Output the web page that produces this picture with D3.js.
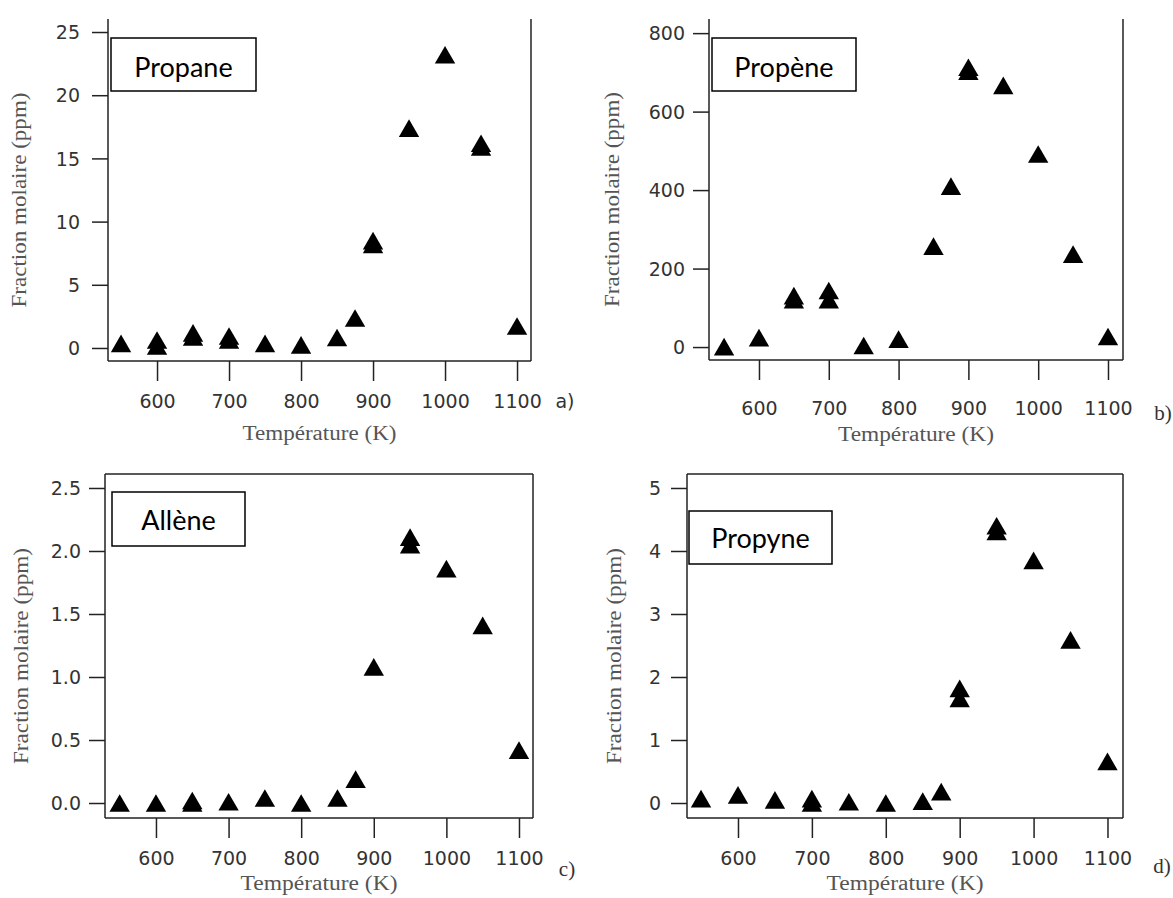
<!DOCTYPE html>
<html>
<head>
<meta charset="utf-8">
<script src="https://cdn.jsdelivr.net/npm/d3@7"></script>
<style>
  html, body { margin: 0; padding: 0; background: #fff; }
  svg { display: block; }
</style>
</head>
<body>
<svg id="chart" width="1173" height="898"></svg>
<script>
// ---------------- DATA ----------------
const speciesNames = ["Propane", "Propène", "Allène", "Propyne"];
const panelLetters = ["a)", "b)", "c)", "d)"];
const xTitle = "Température (K)";
const yTitle = "Fraction molaire (ppm)";

const xTickValues = [600, 700, 800, 900, 1000, 1100];

const propaneT = [550, 600, 600, 650, 650, 700, 700, 750, 800, 850, 875, 900, 900, 950, 1000, 1050, 1050, 1100];
const propaneY = [0.36, 0.16, 0.63, 0.87, 1.19, 0.63, 0.95, 0.36, 0.24, 0.83, 2.37, 8.2, 8.5, 17.4, 23.2, 15.9, 16.2, 1.74];

const propeneT = [550, 600, 650, 650, 700, 700, 750, 800, 850, 875, 900, 900, 950, 1000, 1050, 1100];
const propeneY = [1, 24, 121, 131, 121, 144, 4, 20, 257, 410, 703, 713, 667, 492, 237, 27];

const alleneT = [550, 600, 650, 650, 700, 750, 800, 850, 875, 900, 950, 950, 1000, 1050, 1100];
const alleneY = [0.0, 0.0, 0.0, 0.02, 0.01, 0.04, 0.0, 0.04, 0.19, 1.08, 2.05, 2.11, 1.86, 1.41, 0.42];

const propyneT = [550, 600, 650, 700, 700, 750, 800, 850, 875, 900, 900, 950, 950, 1000, 1050, 1100];
const propyneY = [0.07, 0.13, 0.05, 0.0, 0.07, 0.02, 0.0, 0.03, 0.18, 1.66, 1.82, 4.31, 4.40, 3.85, 2.59, 0.66];

const yTicksA = [0, 5, 10, 15, 20, 25];
const yTicksB = [0, 200, 400, 600, 800];
const yTicksC = [0.0, 0.5, 1.0, 1.5, 2.0, 2.5];
const yTicksD = [0, 1, 2, 3, 4, 5];

// axis ranges (data units)
const xDomainA = [531.9, 1119.4], yDomainA = [-1.03, 26.03];
const xDomainB = [528.4, 1121.5], yDomainB = [-33, 836];
const xDomainC = [529.8, 1119.3], yDomainC = [-0.119, 2.611];
const xDomainD = [531.0, 1121.0], yDomainD = [-0.238, 5.222];

// ---------------- LAYOUT ----------------
const panels = [
  { t: propaneT, v: propaneY, yt: yTicksA, xd: xDomainA, yd: yDomainA, fmt: d3.format("d"),
    L: 108, R: 531, T: 19, B: 361, topBorder: false,
    xLab: 40, yLabEnd: 80, xTitleY: 440, xTitleLen: 154, yTitleX: 26, yTitleLen: 215,
    box: [111, 38, 145, 53], boxBase: 77,
    letter: [565, 401], letterFont: "sans" },
  { t: propeneT, v: propeneY, yt: yTicksB, xd: xDomainB, yd: yDomainB, fmt: d3.format("d"),
    L: 709, R: 1123, T: 19, B: 360, topBorder: false,
    xLab: 48, yLabEnd: 685, xTitleY: 441, xTitleLen: 156, yTitleX: 619, yTitleLen: 215,
    box: [712, 38, 144, 53], boxBase: 77,
    letter: [1163, 413], letterFont: "serif" },
  { t: alleneT, v: alleneY, yt: yTicksC, xd: xDomainC, yd: yDomainC, fmt: d3.format(".1f"),
    L: 105, R: 533, T: 474, B: 818, topBorder: true,
    xLab: 40, yLabEnd: 81, xTitleY: 890, xTitleLen: 157, yTitleX: 28, yTitleLen: 216,
    box: [112, 492, 133, 54], boxBase: 530,
    letter: [567, 869], letterFont: "serif" },
  { t: propyneT, v: propyneY, yt: yTicksD, xd: xDomainD, yd: yDomainD, fmt: d3.format("d"),
    L: 687, R: 1123, T: 474, B: 818, topBorder: true,
    xLab: 40, yLabEnd: 661, xTitleY: 890, xTitleLen: 157, yTitleX: 621, yTitleLen: 216,
    box: [689, 511, 143, 53], boxBase: 548,
    letter: [1162, 866], letterFont: "serif" }
];

const svg = d3.select("#chart");
svg.append("rect").attr("width", 1173).attr("height", 898).attr("fill", "#fff");

// triangle centred on its bounding box
const triangleBox = {
  draw(ctx, size) {
    const s = Math.sqrt(size * 4 / Math.sqrt(3));
    const h = s * Math.sqrt(3) / 2;
    ctx.moveTo(0, -h / 2);
    ctx.lineTo(s / 2, h / 2);
    ctx.lineTo(-s / 2, h / 2);
    ctx.closePath();
  }
};
const marker = d3.symbol().type(triangleBox).size(180);

const lineCol = "#222";
const tickTextCol = "#333";
const titleCol = "#555";

panels.forEach((p, i) => {
  const g = svg.append("g");
  const x = d3.scaleLinear().domain(p.xd).range([p.L, p.R]);
  const y = d3.scaleLinear().domain(p.yd).range([p.B, p.T]);

  // x axis
  const xa = g.append("g").attr("transform", `translate(0,${p.B})`)
    .call(d3.axisBottom(x).tickValues(xTickValues).tickSize(20).tickSizeOuter(0).tickFormat(d3.format("d")));
  xa.select(".domain").remove();
  xa.selectAll(".tick line").attr("stroke", lineCol).attr("stroke-width", 1.5);
  xa.selectAll(".tick text").attr("y", p.xLab).attr("dy", "0.35em")
    .attr("fill", tickTextCol).style("font-family", "DejaVu Sans, sans-serif").style("font-size", "19px");

  // y axis
  const ya = g.append("g").attr("transform", `translate(${p.L},0)`)
    .call(d3.axisLeft(y).tickValues(p.yt).tickSize(16).tickSizeOuter(0).tickFormat(p.fmt));
  ya.select(".domain").remove();
  ya.selectAll(".tick line").attr("stroke", lineCol).attr("stroke-width", 1.5);
  ya.selectAll(".tick text").attr("x", -(p.L - p.yLabEnd)).attr("dy", "0.35em")
    .attr("fill", tickTextCol).style("font-family", "DejaVu Sans, sans-serif").style("font-size", "19px");

  // frame
  const frame = g.append("g").attr("stroke", lineCol).attr("stroke-width", 1.5).attr("fill", "none");
  frame.append("line").attr("x1", p.L).attr("x2", p.L).attr("y1", p.T).attr("y2", p.B);
  frame.append("line").attr("x1", p.R).attr("x2", p.R).attr("y1", p.T).attr("y2", p.B);
  frame.append("line").attr("x1", p.L).attr("x2", p.R).attr("y1", p.B).attr("y2", p.B);
  if (p.topBorder) frame.append("line").attr("x1", p.L).attr("x2", p.R).attr("y1", p.T).attr("y2", p.T);

  // markers
  g.append("g").selectAll("path").data(p.t.map((t, k) => [t, p.v[k]])).join("path")
    .attr("d", marker)
    .attr("transform", d => `translate(${x(d[0])},${y(d[1])})`)
    .attr("fill", "#000");

  // axis titles
  g.append("text")
    .attr("x", (p.L + p.R) / 2).attr("y", p.xTitleY)
    .attr("text-anchor", "middle")
    .attr("textLength", p.xTitleLen).attr("lengthAdjust", "spacingAndGlyphs")
    .attr("fill", titleCol)
    .style("font-family", "Liberation Serif, Times New Roman, serif").style("font-size", "20px")
    .text(xTitle);

  g.append("text")
    .attr("transform", `translate(${p.yTitleX},${(p.T + p.B) / 2 + 10}) rotate(-90)`)
    .attr("text-anchor", "middle")
    .attr("textLength", p.yTitleLen).attr("lengthAdjust", "spacingAndGlyphs")
    .attr("fill", titleCol)
    .style("font-family", "Liberation Serif, Times New Roman, serif").style("font-size", "20px")
    .text(yTitle);

  // panel letter
  g.append("text")
    .attr("x", p.letter[0]).attr("y", p.letter[1]).attr("dy", "0.35em")
    .attr("text-anchor", "middle").attr("fill", tickTextCol)
    .style("font-family", p.letterFont === "sans" ? "DejaVu Sans, sans-serif" : "Liberation Serif, serif")
    .style("font-size", p.letterFont === "sans" ? "19px" : "21px")
    .text(panelLetters[i]);

  // species label box
  g.append("rect")
    .attr("x", p.box[0]).attr("y", p.box[1]).attr("width", p.box[2]).attr("height", p.box[3])
    .attr("fill", "#fff").attr("stroke", "#000").attr("stroke-width", 1.5);
  g.append("text")
    .attr("x", p.box[0] + p.box[2] / 2).attr("y", p.boxBase)
    .attr("text-anchor", "middle").attr("fill", "#000")
    .style("font-family", "Lato, Carlito, Calibri, sans-serif").style("font-size", "27px")
    .text(speciesNames[i]);
});
</script>
</body>
</html>
